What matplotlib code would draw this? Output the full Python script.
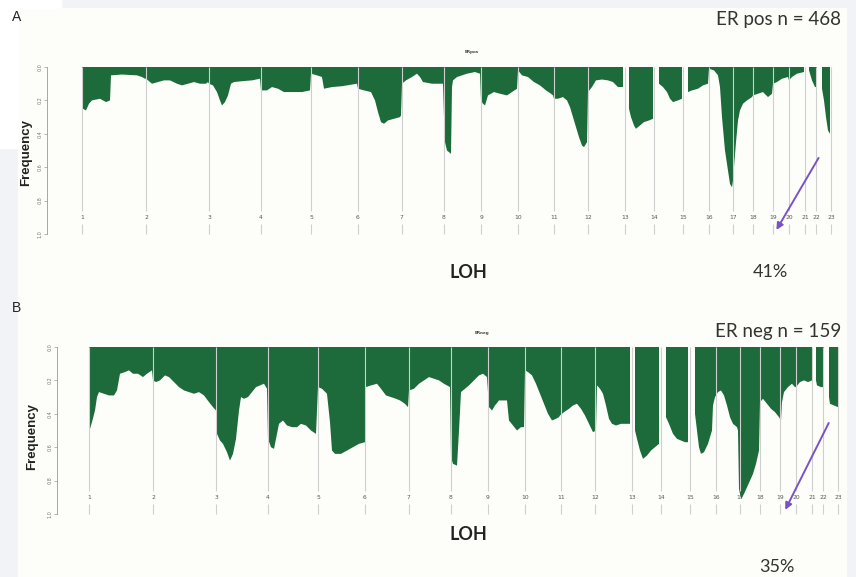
import numpy as np
import matplotlib.pyplot as plt
from matplotlib.patches import Rectangle

nan = np.nan

# chromosome start positions along the genome (scaled units, chr1 = 0)
chrom_start = [0, 64, 127, 179, 229, 276, 320, 362, 399, 436, 472, 506,
               543, 572, 601, 627, 651, 671, 691, 707, 723, 734, 749]
chrom_names = [str(i) for i in range(1, 24)]

# ER positive LOH frequency profile (NaN = no data)
pos_a = [0, 1, 4, 7, 10, 18, 21, 24, 28, 29, 40, 55, 60, 63,
         64, 66, 70, 76, 82, 88, 95, 100, 106, 112, 118, 124, 126,
         127, 131, 135, 138, 140, 143, 146, 149, 152, 160, 170, 178,
         179, 185, 190, 196, 202, 212, 220, 228,
         229, 235, 240, 242, 250, 260, 270, 275,
         276, 282, 289, 293, 296, 299, 302, 306, 312, 318, 319,
         320, 324, 330, 335, 338, 341, 350, 361,
         362, 363, 365, 369, 370, 371, 375, 385, 393, 398,
         399, 401, 403, 406, 412, 418, 425, 430, 435,
         436, 440, 446, 452, 458, 464, 469, 471,
         472, 476, 481, 485, 488, 491, 494, 497, 500, 502, 505,
         506, 510, 514, 520, 526, 531, 536, 541, 544,
         547, 549, 552, 554, 558, 562, 567, 571, 574,
         577, 581, 585, 588, 591, 596, 600, 603,
         606, 610, 616, 621, 626,
         627, 632, 636, 638, 640, 643, 646, 648, 650,
         651, 652, 654, 656, 658, 661, 665, 670,
         671, 676, 681, 686, 690,
         691, 695, 700, 706,
         707, 710, 715, 722, 724,
         727, 730, 733, 735, 737,
         740, 742, 744, 746, 748]
freq_a = [0.23, 0.25, 0.26, 0.22, 0.2, 0.19, 0.2, 0.21, 0.2, 0.05, 0.045, 0.05, 0.06, 0.07,
          0.07, 0.08, 0.1, 0.09, 0.08, 0.08, 0.1, 0.11, 0.1, 0.09, 0.1, 0.1, 0.09,
          0.1, 0.11, 0.15, 0.2, 0.23, 0.21, 0.17, 0.1, 0.09, 0.085, 0.08, 0.07,
          0.14, 0.14, 0.12, 0.13, 0.15, 0.15, 0.15, 0.14,
          0.04, 0.05, 0.06, 0.13, 0.12, 0.115, 0.105, 0.1,
          0.13, 0.14, 0.15, 0.2, 0.27, 0.33, 0.34, 0.32, 0.31, 0.3, 0.29,
          0.1, 0.08, 0.06, 0.04, 0.06, 0.09, 0.1, 0.1,
          0.3, 0.45, 0.5, 0.52, 0.12, 0.08, 0.06, 0.04, 0.03, 0.04,
          0.2, 0.22, 0.23, 0.17, 0.15, 0.16, 0.17, 0.15, 0.13,
          0.02, 0.05, 0.06, 0.09, 0.11, 0.14, 0.16, 0.17,
          0.19, 0.19, 0.18, 0.2, 0.24, 0.3, 0.36, 0.42, 0.47, 0.48, 0.45,
          0.15, 0.12, 0.08, 0.075, 0.08, 0.09, 0.12, 0.12, nan,
          0.25, 0.3, 0.35, 0.37, 0.35, 0.33, 0.32, 0.31, nan,
          0.1, 0.12, 0.15, 0.19, 0.21, 0.2, 0.19, nan,
          0.15, 0.14, 0.13, 0.11, 0.1,
          0.01, 0.02, 0.05, 0.12, 0.3, 0.5, 0.62, 0.7, 0.72,
          0.68, 0.6, 0.45, 0.32, 0.26, 0.22, 0.2, 0.18,
          0.17, 0.16, 0.15, 0.18, 0.16,
          0.1, 0.09, 0.07, 0.06,
          0.08, 0.06, 0.04, 0.03, nan,
          0.02, 0.08, 0.12, 0.12, nan,
          0.13, 0.2, 0.3, 0.38, 0.4]

# ER negative LOH frequency profile
pos_b = [0, 1, 3, 6, 8, 10, 15, 20, 25, 28, 31, 36, 40, 44, 49, 54, 58, 63,
         64, 67, 71, 76, 80, 85, 90, 95, 100, 105, 110, 115, 120, 124, 127,
         128, 131, 134, 138, 141, 144, 147, 150, 152, 155, 159, 163, 167, 171, 175, 178,
         179, 182, 185, 190, 194, 198, 203, 208, 212, 217, 222, 227,
         229, 233, 238, 241, 243, 246, 252, 258, 264, 270, 276,
         277, 282, 288, 292, 297, 302, 307, 311, 316, 319,
         320, 325, 330, 335, 340, 345, 350, 355, 361,
         362, 364, 368, 370, 372, 376, 380, 385, 390, 394, 398,
         400, 403, 406, 410, 414, 418, 420, 424, 428, 432, 435,
         436, 439, 443, 447, 451, 455, 459, 463, 467, 470,
         471, 475, 480, 484, 488, 492, 496, 500, 504, 507,
         508, 511, 514, 517, 520, 523, 527, 532, 537, 541, 543,
         546, 548, 551, 554, 558, 562, 566, 570, 573,
         577, 580, 584, 588, 592, 596, 599, 602,
         606, 608, 610, 612, 615, 619, 623,
         624, 626, 629, 632, 635, 638, 641, 644, 648, 649,
         650, 652, 655, 658, 661, 664, 667, 670,
         671, 674, 678, 682, 686, 690, 692,
         693, 695, 699, 703, 706,
         707, 711, 715, 719, 723, 725,
         727, 728, 732, 735, 737,
         740, 741, 745, 749]
freq_b = [0.46, 0.49, 0.45, 0.38, 0.3, 0.27, 0.28, 0.29, 0.29, 0.26, 0.16, 0.15, 0.14, 0.16, 0.16, 0.18, 0.16, 0.14,
          0.2, 0.21, 0.2, 0.17, 0.18, 0.21, 0.24, 0.26, 0.27, 0.28, 0.27, 0.29, 0.33, 0.36, 0.38,
          0.52, 0.56, 0.58, 0.63, 0.68, 0.64, 0.55, 0.38, 0.3, 0.31, 0.3, 0.27, 0.24, 0.23, 0.22, 0.25,
          0.55, 0.6, 0.61, 0.46, 0.44, 0.47, 0.48, 0.48, 0.46, 0.47, 0.5, 0.52,
          0.24, 0.25, 0.28, 0.45, 0.62, 0.64, 0.64, 0.62, 0.6, 0.58, 0.57,
          0.24, 0.23, 0.22, 0.25, 0.29, 0.3, 0.31, 0.32, 0.34, 0.36,
          0.26, 0.25, 0.22, 0.2, 0.18, 0.19, 0.2, 0.22, 0.24,
          0.66, 0.7, 0.71, 0.5, 0.27, 0.25, 0.23, 0.2, 0.17, 0.16, 0.18,
          0.36, 0.38, 0.35, 0.32, 0.32, 0.32, 0.44, 0.47, 0.5, 0.48, 0.48,
          0.14, 0.15, 0.17, 0.22, 0.28, 0.34, 0.4, 0.44, 0.43, 0.42,
          0.41, 0.39, 0.37, 0.35, 0.34, 0.37, 0.41, 0.46, 0.51, 0.5,
          0.23, 0.25, 0.28, 0.35, 0.43, 0.46, 0.47, 0.46, 0.46, 0.46, nan,
          0.5, 0.55, 0.62, 0.67, 0.65, 0.62, 0.6, 0.58, nan,
          0.42, 0.46, 0.52, 0.55, 0.56, 0.57, 0.57, nan,
          0.4, 0.5, 0.6, 0.64, 0.63, 0.58, 0.5,
          0.35, 0.3, 0.27, 0.26, 0.29, 0.35, 0.42, 0.46, 0.48, 0.5,
          0.85, 0.91, 0.88, 0.84, 0.8, 0.76, 0.7, 0.62,
          0.33, 0.31, 0.34, 0.37, 0.39, 0.42, 0.44,
          0.33, 0.27, 0.24, 0.22, 0.24,
          0.24, 0.21, 0.2, 0.21, 0.2, nan,
          0.2, 0.23, 0.24, 0.24, nan,
          0.3, 0.34, 0.35, 0.36]

yticks = [0, 0.2, 0.4, 0.6, 0.8, 1.0]

W, H = 856, 577
GREEN = '#1d6a3b'
PURPLE = '#7b52c6'


def box(x0, y0, x1, y1):
    return [x0 / W, 1 - y1 / H, (x1 - x0) / W, (y1 - y0) / H]


fig = plt.figure(figsize=(W / 100, H / 100), dpi=100)
fig.patch.set_facecolor('#f1f3f6')
for (x0, y0, x1, y1, c) in [(18, 8, 846, 577, '#fdfdf9'), (0, 0, 61, 8, '#ffffff'),
                            (0, 0, 18, 148, '#ffffff')]:
    fig.patches.append(Rectangle((x0 / W, 1 - y1 / H), (x1 - x0) / W, (y1 - y0) / H,
                                 transform=fig.transFigure, color=c, zorder=-10))


def panel(rect, x0_px, x_left, x_right, pos, freq, arrow):
    ax = fig.add_axes(box(*rect))
    ax.set_facecolor('none')
    ax.fill_between(pos, 0, freq, color=GREEN, lw=0, zorder=2)
    ax.vlines(chrom_start, 0, 0.86, color='#cfcfcf', lw=0.8, zorder=3)
    ax.vlines(chrom_start, 0.94, 1.0, color='#cfcfcf', lw=0.8, zorder=3)
    for s, n in zip(chrom_start, chrom_names):
        ax.text(s, 0.9, n, fontsize=4.3, ha='center', va='center', color='#555555', zorder=1)
    ax.set_xlim(x_left - x0_px, x_right - x0_px)
    ax.set_ylim(1.036, -0.03)
    for sp in ['top', 'right', 'bottom']:
        ax.spines[sp].set_visible(False)
    ax.spines['left'].set_bounds(0, 1)
    ax.spines['left'].set_color('#999999')
    ax.spines['left'].set_linewidth(0.6)
    ax.set_xticks([])
    ax.set_yticks(yticks)
    ax.set_yticklabels(['%.1f' % t for t in yticks], fontsize=3.5, rotation=90,
                       va='center', color='#777777')
    ax.tick_params(axis='y', length=2, width=0.5, color='#999999', pad=1)
    ax.annotate('', xy=arrow[1], xytext=arrow[0],
                arrowprops=dict(arrowstyle='-|>', color=PURPLE, lw=1.4,
                                mutation_scale=10), annotation_clip=False)
    return ax


ax_a = panel((47, 62, 845, 240), 82, 47, 845, pos_a, freq_a, ((738, 0.53), (693, 0.99)))
ax_b = panel((57, 342, 850, 520), 89, 57, 850, pos_b, freq_b, ((741, 0.44), (695, 0.99)))


def ftext(x, y, s, **kw):
    fig.text(x / W, 1 - y / H, s, **kw)


ftext(12, 17, 'A', fontsize=10, family='Liberation Sans', color='#222222', va='center')
ftext(12, 308, 'B', fontsize=10, family='Liberation Sans', color='#222222', va='center')
ftext(841, 20, 'ER pos n = 468', fontsize=13.5, family='Lato', color='#333333',
      ha='right', va='center')
ftext(841, 332, 'ER neg n = 159', fontsize=13.5, family='Lato', color='#333333',
      ha='right', va='center')
ftext(472, 52, 'ERpos', fontsize=3, fontweight='bold', color='#444444', ha='center', va='center')
ftext(482, 333, 'ERneg', fontsize=3, fontweight='bold', color='#444444', ha='center', va='center')
ftext(26, 152, 'Frequency', fontsize=9.5, fontweight='bold', family='Liberation Sans',
      rotation=90, ha='center', va='center', color='#222222')
ftext(32, 437, 'Frequency', fontsize=9.5, fontweight='bold', family='Liberation Sans',
      rotation=90, ha='center', va='center', color='#222222')
ftext(468, 272, 'LOH', fontsize=13, fontweight='bold', family='Lato', ha='center',
      va='center', color='#222222')
ftext(468, 535, 'LOH', fontsize=13, fontweight='bold', family='Lato', ha='center',
      va='center', color='#222222')
ftext(770, 272, '41%', fontsize=13, family='Lato', ha='center', va='center', color='#333333')
ftext(777, 567, '35%', fontsize=13, family='Lato', ha='center', va='center', color='#333333')

fig.savefig('out.png', dpi=100, facecolor=fig.get_facecolor())
